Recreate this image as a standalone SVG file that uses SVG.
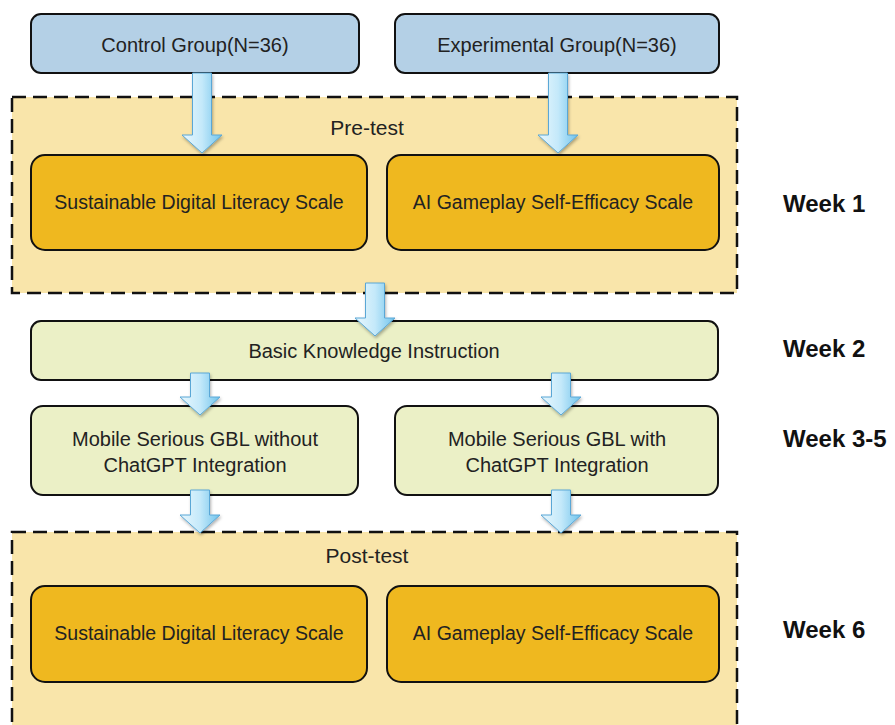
<svg xmlns="http://www.w3.org/2000/svg" width="895" height="725" viewBox="0 0 895 725">
<defs>
<linearGradient id="ag" x1="0" y1="0" x2="1" y2="0">
<stop offset="0" stop-color="#e9f7fd"/>
<stop offset="0.5" stop-color="#c4e9fa"/>
<stop offset="1" stop-color="#6fc3ec"/>
</linearGradient>
<filter id="sh" x="-30%" y="-30%" width="160%" height="160%">
<feDropShadow dx="1" dy="2" stdDeviation="1.5" flood-color="#000" flood-opacity="0.3"/>
</filter>
</defs>
<style>
.grp{fill:#b4d0e6;stroke:#111;stroke-width:2}
.phase{fill:#f9e5aa;stroke:#111;stroke-width:2.5;stroke-dasharray:14 7}
.scale{fill:#efb81f;stroke:#111;stroke-width:2}
.act{fill:#ebf0c6;stroke:#111;stroke-width:2}
.t{font-family:"Liberation Sans",Arial,sans-serif;font-size:20px;fill:#222;text-anchor:middle}
.ts{font-family:"Liberation Sans",Arial,sans-serif;font-size:19.5px;fill:#222;text-anchor:middle}
.ph{font-family:"Liberation Sans",Arial,sans-serif;font-size:21px;fill:#222;text-anchor:middle}
.wk{font-family:"Liberation Sans",Arial,sans-serif;font-size:24px;font-weight:bold;fill:#111}
.arr{fill:url(#ag);stroke:#5aa7d6;stroke-width:1;filter:url(#sh)}
</style>
<rect width="895" height="725" fill="#fff"/>
<g id="pretest">
<rect class="phase" x="12" y="97" width="725" height="196"/>
<text class="ph" x="367" y="135">Pre-test</text>
</g>
<g id="posttest">
<rect class="phase" x="12" y="532" width="725" height="210"/>
<text class="ph" x="367" y="563">Post-test</text>
</g>
<g id="control">
<rect class="grp" x="31" y="14" width="328" height="59" rx="10"/>
<text class="t" x="195" y="52">Control Group(N=36)</text>
</g>
<g id="experimental">
<rect class="grp" x="395" y="14" width="324" height="59" rx="10"/>
<text class="t" x="557" y="52">Experimental Group(N=36)</text>
</g>
<g id="pre-sdl">
<rect class="scale" x="31" y="155" width="336" height="95" rx="14"/>
<text class="ts" x="199" y="209">Sustainable Digital Literacy Scale</text>
</g>
<g id="pre-ai">
<rect class="scale" x="387" y="155" width="332" height="95" rx="14"/>
<text class="ts" x="553" y="209">AI Gameplay Self-Efficacy Scale</text>
</g>
<g id="basic">
<rect class="act" x="31" y="321" width="687" height="59" rx="10"/>
<text class="t" x="374" y="358">Basic Knowledge Instruction</text>
</g>
<g id="gbl-without">
<rect class="act" x="31" y="406" width="327" height="89" rx="12"/>
<text class="t" x="195" y="446">Mobile Serious GBL without</text>
<text class="t" x="195" y="472">ChatGPT Integration</text>
</g>
<g id="gbl-with">
<rect class="act" x="395" y="406" width="323" height="89" rx="12"/>
<text class="t" x="557" y="446">Mobile Serious GBL with</text>
<text class="t" x="557" y="472">ChatGPT Integration</text>
</g>
<g id="post-sdl">
<rect class="scale" x="31" y="586" width="336" height="96" rx="14"/>
<text class="ts" x="199" y="640">Sustainable Digital Literacy Scale</text>
</g>
<g id="post-ai">
<rect class="scale" x="387" y="586" width="332" height="96" rx="14"/>
<text class="ts" x="553" y="640">AI Gameplay Self-Efficacy Scale</text>
</g>
<g id="weeks">
<text class="wk" x="783" y="212">Week 1</text>
<text class="wk" x="783" y="357">Week 2</text>
<text class="wk" x="783" y="447">Week 3-5</text>
<text class="wk" x="783" y="638">Week 6</text>
</g>
<g id="connectors">
<polygon class="arr" points="192.5,73 211.5,73 211.5,135 222,135 202,153 182,135 192.5,135"/>
<polygon class="arr" points="548.5,73 567.5,73 567.5,135 578,135 558,153 538,135 548.5,135"/>
<polygon class="arr" points="365.5,283 384.5,283 384.5,318 395,318 375,336 355,318 365.5,318"/>
<polygon class="arr" points="190.5,373 209.5,373 209.5,397 220,397 200,415 180,397 190.5,397"/>
<polygon class="arr" points="551.5,373 570.5,373 570.5,397 581,397 561,415 541,397 551.5,397"/>
<polygon class="arr" points="190.5,490 209.5,490 209.5,515 220,515 200,533 180,515 190.5,515"/>
<polygon class="arr" points="551.5,490 570.5,490 570.5,515 581,515 561,533 541,515 551.5,515"/>
</g>
</svg>
